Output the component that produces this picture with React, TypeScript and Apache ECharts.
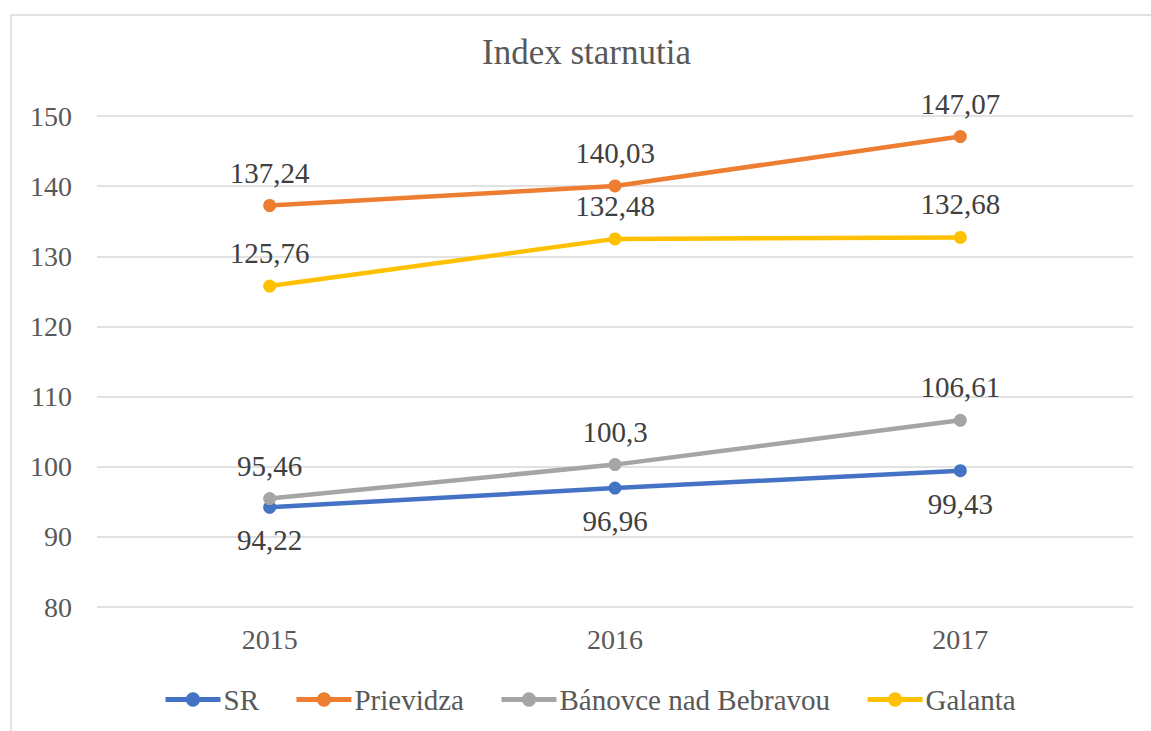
import React, { useEffect, useRef } from "react";
import * as echarts from "echarts";

const categories = ["2015", "2016", "2017"];
const srValues = [94.22, 96.96, 99.43];
const prievidzaValues = [137.24, 140.03, 147.07];
const banovceValues = [95.46, 100.3, 106.61];
const galantaValues = [125.76, 132.48, 132.68];
const seriesNames = ["SR", "Prievidza", "Bánovce nad Bebravou", "Galanta"];
const colors = ["#4472C4", "#ED7D31", "#A5A5A5", "#FFC000"];

const fmt = (v: number) => String(v).replace(".", ",");

export default function App() {
  const ref = useRef<HTMLDivElement>(null);
  useEffect(() => {
    if (!ref.current) return;
    const chart = echarts.init(ref.current, undefined, { renderer: "svg" });
    const font = "Liberation Serif";
    const mk = (name: string, data: number[], color: string, pos: string) => ({
      name,
      type: "line",
      data,
      symbol: "circle",
      symbolSize: 13,
      lineStyle: { width: 4.5, color },
      itemStyle: { color },
      label: {
        show: true,
        position: pos,
        distance: 12,
        formatter: (p: any) => fmt(p.value),
        fontFamily: font,
        fontWeight: "normal",
        fontSize: 29,
        color: "#404040",
      },
    });
    chart.setOption({
      animation: false,
      backgroundColor: "#ffffff",
      textStyle: { fontFamily: font },
      title: {
        text: "Index starnutia",
        left: 482,
        top: 35,
        padding: 0,
        textStyle: { fontFamily: font, fontSize: 35, fontWeight: "normal", color: "#595959" },
      },
      grid: { left: 97, right: 18, top: 116, bottom: 124 },
      xAxis: {
        type: "category",
        data: categories,
        axisLine: { show: false },
        axisTick: { show: false },
        axisLabel: { fontFamily: font, fontWeight: "normal", fontSize: 28, color: "#595959", margin: 18 },
      },
      yAxis: {
        type: "value",
        min: 80,
        max: 150,
        interval: 10,
        axisLabel: { fontFamily: font, fontWeight: "normal", fontSize: 28, color: "#595959", margin: 25 },
        splitLine: { lineStyle: { color: "#D9D9D9", width: 1.5 } },
      },
      legend: {
        bottom: 17,
        left: 163,
        padding: 0,
        itemWidth: 55,
        itemHeight: 18,
        itemGap: 35,
        data: seriesNames,
        lineStyle: { width: 5 },
        textStyle: { fontFamily: font, fontWeight: "normal", fontSize: 29, color: "#595959", padding: [0, 0, 0, -2] },
      },
      graphic: [
        {
          type: "rect",
          shape: { x: 11, y: 15, width: 1160, height: 760 },
          style: { fill: "none", stroke: "#D9D9D9", lineWidth: 1.5 },
          silent: true,
        },
      ],
      series: [
        mk(seriesNames[0], srValues, colors[0], "bottom"),
        mk(seriesNames[1], prievidzaValues, colors[1], "top"),
        mk(seriesNames[2], banovceValues, colors[2], "top"),
        mk(seriesNames[3], galantaValues, colors[3], "top"),
      ],
    });
    return () => chart.dispose();
  }, []);
  return <div ref={ref} style={{ position: "fixed", left: 0, top: 0, width: 1151, height: 731 }} />;
}
